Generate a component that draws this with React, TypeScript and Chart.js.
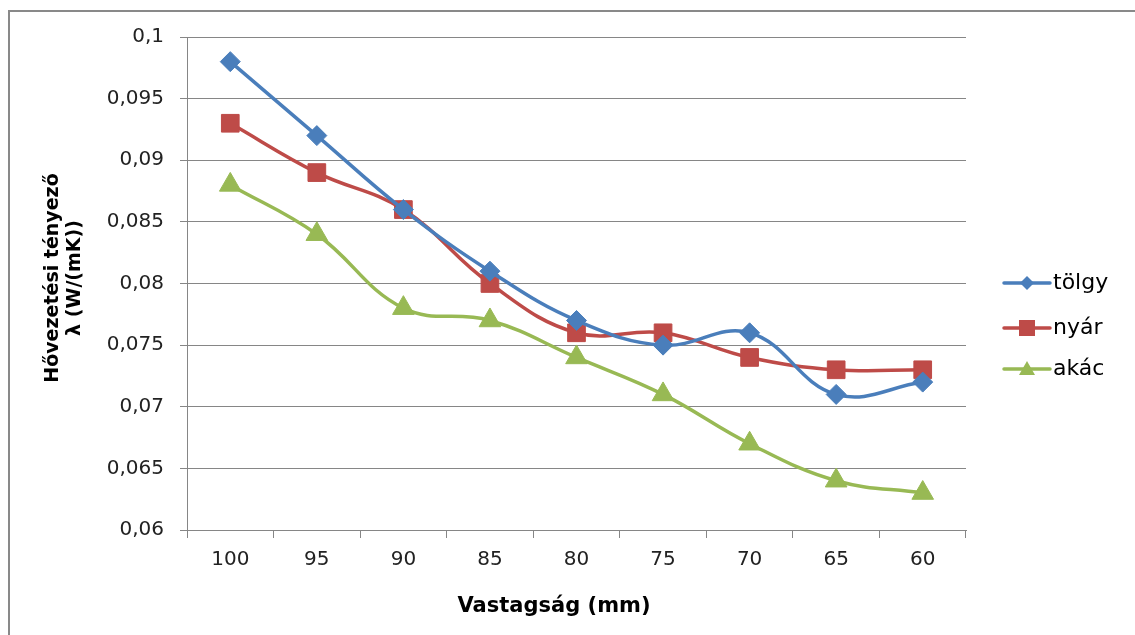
import React, { useEffect, useRef } from "react";
import { Chart, registerables } from "chart.js";

Chart.register(...registerables);

const categories = ["100", "95", "90", "85", "80", "75", "70", "65", "60"];
const tolgy = [0.098, 0.092, 0.086, 0.081, 0.077, 0.075, 0.076, 0.071, 0.072];
const nyar = [0.093, 0.089, 0.086, 0.080, 0.076, 0.076, 0.074, 0.073, 0.073];
const akac = [0.088, 0.084, 0.078, 0.077, 0.074, 0.071, 0.067, 0.064, 0.063];
const seriesNames = ["tölgy", "nyár", "akác"];
const xTitle = "Vastagság (mm)";
const yTitleLines = ["Hővezetési tényező", "λ (W/(mK))"];

const FONT = "'DejaVu Sans', sans-serif";
const BLUE = "#4A7EBB";
const RED = "#BE4B48";
const GREEN = "#98B954";

const fmt = (v: number) => parseFloat(v.toFixed(3)).toString().replace(".", ",");

export default function App() {
  const ref = useRef<HTMLCanvasElement | null>(null);
  useEffect(() => {
    if (!ref.current) return;
    const decor = {
      id: "decor",
      afterDraw(chart: any) {
        const ctx = chart.ctx as CanvasRenderingContext2D;
        ctx.save();
        // x title
        ctx.fillStyle = "#000";
        ctx.font = `bold 21px ${FONT}`;
        ctx.textAlign = "center";
        ctx.textBaseline = "middle";
        ctx.fillText(xTitle, 544, 595);
        // y title
        ctx.save();
        ctx.translate(0, 266);
        ctx.rotate(-Math.PI / 2);
        ctx.font = `bold 19px ${FONT}`;
        ctx.fillText(yTitleLines[0], 0, 43);
        ctx.fillText(yTitleLines[1], 0, 65);
        ctx.restore();
        // legend
        const ys = [271, 316, 357];
        chart.data.datasets.forEach((ds: any, i: number) => {
          const y = ys[i];
          ctx.strokeStyle = ds.borderColor;
          ctx.lineWidth = 3.5;
          ctx.lineCap = "round";
          ctx.beginPath();
          ctx.moveTo(994, y);
          ctx.lineTo(1040, y);
          ctx.stroke();
          ctx.fillStyle = ds.borderColor;
          const cx = 1017;
          ctx.beginPath();
          if (ds.pointStyle === "rectRot") {
            const r = 7;
            ctx.moveTo(cx, y - r);
            ctx.lineTo(cx + r, y);
            ctx.lineTo(cx, y + r);
            ctx.lineTo(cx - r, y);
          } else if (ds.pointStyle === "rect") {
            ctx.rect(cx - 8, y - 8, 16, 16);
          } else {
            ctx.moveTo(cx, y - 8);
            ctx.lineTo(cx + 8, y + 6);
            ctx.lineTo(cx - 8, y + 6);
          }
          ctx.closePath();
          ctx.fill();
          ctx.fillStyle = "#000";
          ctx.font = `22px ${FONT}`;
          ctx.textAlign = "left";
          ctx.textBaseline = "middle";
          ctx.fillText(seriesNames[i], 1043, y);
        });
        ctx.restore();
      },
    };
    const mk = (label: string, data: number[], color: string, style: string, radius: number) => ({
      label,
      data,
      borderColor: color,
      backgroundColor: color,
      pointBackgroundColor: color,
      pointBorderColor: color,
      pointStyle: style,
      pointRadius: radius,
      pointHoverRadius: radius,
      pointBorderWidth: 1,
      borderWidth: 3.5,
      tension: 0.4,
      fill: false,
    });
    const chart = new Chart(ref.current, {
      type: "line",
      data: {
        labels: categories,
        datasets: [
          mk(seriesNames[0], tolgy, BLUE, "rectRot", 10),
          mk(seriesNames[1], nyar, RED, "rect", 12.5),
          mk(seriesNames[2], akac, GREEN, "triangle", 12.5),
        ],
      },
      plugins: [decor],
      options: {
        responsive: false,
        devicePixelRatio: 1,
        animation: false,
        events: [],
        layout: { padding: { left: 0, top: 25, right: 169, bottom: 0 } },
        plugins: { legend: { display: false }, tooltip: { enabled: false }, title: { display: false } },
        scales: {
          x: {
            type: "category",
            offset: true,
            afterFit: (s: any) => { s.height = 105; s.paddingLeft = 0; s.paddingRight = 0; },
            grid: { display: true, drawOnChartArea: false, drawTicks: true, tickLength: 8, color: "#868686", offset: true },
            border: { display: true, color: "#868686", width: 1 },
            ticks: { color: "#222", font: { family: FONT, size: 20 }, padding: 10 },
          },
          y: {
            min: 0.06,
            max: 0.1,
            afterFit: (s: any) => { s.width = 177; s.paddingTop = 0; s.paddingBottom = 0; },
            grid: { display: true, drawOnChartArea: true, drawTicks: true, tickLength: 7, color: "#868686" },
            border: { display: true, color: "#868686", width: 1 },
            ticks: {
              stepSize: 0.005,
              color: "#222",
              font: { family: FONT, size: 20 },
              padding: 16,
              callback: (v: any) => fmt(Number(v)),
            },
          },
        },
      },
    } as any);
    return () => chart.destroy();
  }, []);
  return (
    <div
      style={{
        position: "absolute",
        left: 8,
        top: 10,
        width: 1127,
        height: 625,
        borderLeft: "2px solid #898989",
        borderTop: "2px solid #898989",
        boxSizing: "border-box",
        overflow: "hidden",
        background: "#fff",
      }}
    >
      <canvas ref={ref} width={1125} height={623} style={{ display: "block", width: 1125, height: 623 }} />
    </div>
  );
}
